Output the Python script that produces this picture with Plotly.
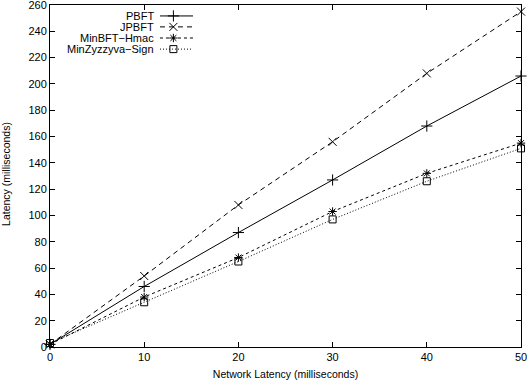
import plotly.graph_objects as go

x_vals = [0, 10, 20, 30, 40, 50]
pbft = [2, 46, 87, 127, 168, 206]
jpbft = [2, 54, 108, 156, 208, 255]
minbft = [2, 38, 68, 103, 132, 155]
minzyz = [3, 34, 65, 97, 126, 151]
names = ["PBFT", "JPBFT", "MinBFT\u2212Hmac", "MinZyzzyva\u2212Sign"]
series = [pbft, jpbft, minbft, minzyz]
symbols = ["cross-thin-open", "x-thin-open", "asterisk-open", "square-open"]
dashes = ["solid", "5px,4px", "3px,3px", "1px,2px"]
msizes = [8, 8, 7, 7]
FONT = "Liberation Sans, Arial"

fig = go.Figure()
for n, s, sym, d, ms in zip(names, series, symbols, dashes, msizes):
    fig.add_trace(go.Scatter(x=x_vals, y=s, mode="lines+markers", name=n,
                             line=dict(color="black", width=1, dash=d),
                             marker=dict(symbol=sym, size=ms, color="black",
                                         line=dict(color="black", width=1)),
                             showlegend=False, cliponaxis=False))

# manual gnuplot-style key
row_y = [0.968, 0.936, 0.9035, 0.871]
for n, sym, d, ms, yy in zip(names, symbols, dashes, msizes, row_y):
    fig.add_trace(go.Scatter(x=[0.2335, 0.3036], y=[yy, yy], mode="lines",
                             line=dict(color="black", width=1, dash=d),
                             xaxis="x2", yaxis="y2", showlegend=False, hoverinfo="skip"))
    fig.add_trace(go.Scatter(x=[0.262], y=[yy], mode="markers",
                             marker=dict(symbol=sym, size=ms, color="black",
                                         line=dict(color="black", width=1)),
                             xaxis="x2", yaxis="y2", showlegend=False, hoverinfo="skip"))
    fig.add_annotation(x=0.2187, y=yy, xref="paper", yref="paper", text=n,
                       showarrow=False, xanchor="right", yanchor="middle", align="right",
                       borderpad=0, xshift=2,
                       font=dict(family=FONT, size=11, color="black"))

# y-axis title
fig.add_annotation(x=-0.0934, y=0.506, xref="paper", yref="paper", text="Latency (milliseconds)",
                   textangle=-90, showarrow=False, xanchor="center", yanchor="middle",
                   font=dict(family=FONT, size=10.5, color="black"))

axis_common = dict(showgrid=False, zeroline=False, showline=True, linecolor="black",
                   linewidth=1, mirror="ticks", ticks="inside", ticklen=5, automargin=False,
                   ticklabeloverflow="allow",
                   tickcolor="black", tickfont=dict(family=FONT, size=11, color="black"))
fig.update_layout(
    width=528, height=385, plot_bgcolor="white", paper_bgcolor="white",
    margin=dict(l=50, r=7, t=5, b=38),
    xaxis=dict(range=[0, 50], tickvals=[0, 10, 20, 30, 40, 50],
               title=dict(text="Network Latency (milliseconds)",
               font=dict(family=FONT, size=10.5, color="black"), standoff=8),
               **axis_common),
    yaxis=dict(range=[0, 260], tickvals=list(range(0, 261, 20)), **axis_common),
    xaxis2=dict(range=[0, 1], overlaying="x", visible=False),
    yaxis2=dict(range=[0, 1], overlaying="y", visible=False),
)
fig.write_html("out.html")
